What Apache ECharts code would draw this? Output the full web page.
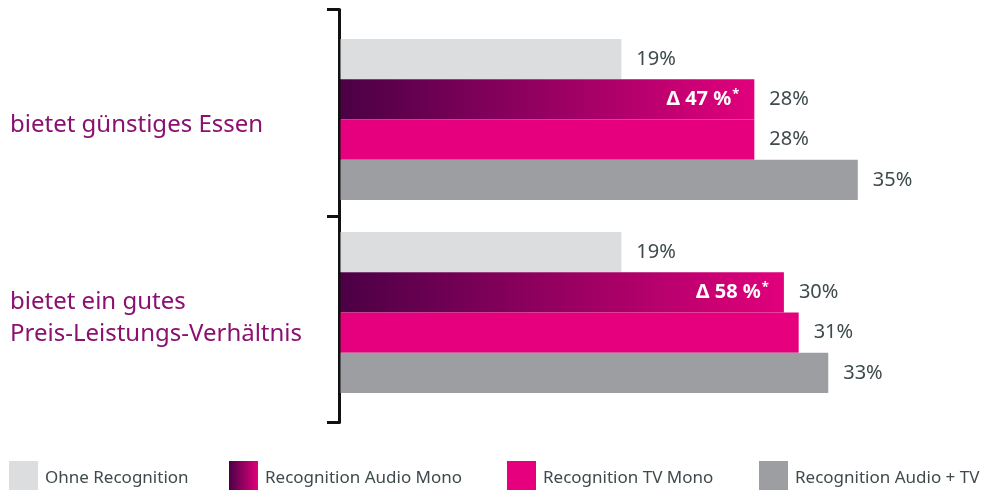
<!DOCTYPE html>
<html>
<head>
<meta charset="utf-8">
<script src="https://cdn.jsdelivr.net/npm/echarts@6/dist/echarts.min.js"></script>
<style>
  html, body { margin: 0; padding: 0; background: #fff; }
  #chart { width: 984px; height: 490px; }
</style>
</head>
<body>
<div id="chart"></div>
<script>
// data
const categories = ['bietet günstiges Essen', 'bietet ein gutes\nPreis-Leistungs-Verhältnis'];
const seriesNames = ['Ohne Recognition', 'Recognition Audio Mono', 'Recognition TV Mono', 'Recognition Audio + TV'];
const ohne = [19, 19];
const audioMono = [28, 30];
const tvMono = [28, 31];
const audioTv = [35, 33];
const deltaLabels = ['Δ 47 %', 'Δ 58 %'];

const textColor = '#3e4a4c';
const catColor = '#8a1170';
const font = 'Noto Sans';

const gradient = new echarts.graphic.LinearGradient(0, 0, 1, 0, [
  { offset: 0, color: '#4b0046' },
  { offset: 1, color: '#e2007c' }
]);

const valueLabel = {
  show: true,
  position: 'right',
  distance: 15,
  fontFamily: font,
  fontSize: 20,
  color: textColor,
  formatter: p => p.value + '%'
};

function legendAt(left, name) {
  return {
    left: left,
    top: 461,
    padding: 0,
    itemWidth: 29,
    itemHeight: 29,
    icon: 'rect',
    selectedMode: false,
    data: [name],
    formatter: n => '{sp| }\n{t|' + n + '}',
    textStyle: {
      rich: {
        sp: { fontSize: 1, height: 6, lineHeight: 6 },
        t: { fontFamily: font, fontSize: 17, color: textColor, padding: [0, 0, 0, 2] }
      }
    }
  };
}

const chart = echarts.init(document.getElementById('chart'));
chart.setOption({
  animation: false,
  legend: [
    legendAt(9, seriesNames[0]),
    legendAt(229, seriesNames[1]),
    legendAt(507, seriesNames[2]),
    legendAt(759, seriesNames[3])
  ],
  grid: [
    { left: 340.5, top: 23, width: 591.2, height: 386 },
    { left: 339, top: 9.5, width: 10, height: 413 }
  ],
  xAxis: [
    { type: 'value', min: 0, max: 40, show: false, gridIndex: 0 },
    { type: 'value', show: false, gridIndex: 1 }
  ],
  yAxis: [
    {
      type: 'category',
      gridIndex: 0,
      inverse: true,
      data: categories,
      axisLine: { show: false },
      axisTick: { show: false },
      axisLabel: {
        margin: 330.5,
        align: 'left',
        // small spacer line on top pushes the text down a bit
        formatter: v => '{sp| }\n' + v.split('\n').map(s => '{c|' + s + '}').join('\n'),
        rich: {
          sp: { fontSize: 1, height: 12, lineHeight: 12 },
          c: { fontFamily: font, fontSize: 24, lineHeight: 32, color: catColor }
        }
      }
    },
    {
      // bracket on the left
      type: 'category',
      gridIndex: 1,
      data: ['', ''],
      axisLine: { show: true, lineStyle: { color: '#111', width: 3 } },
      axisTick: { show: true, length: 12, lineStyle: { color: '#111', width: 3 } },
      axisLabel: { show: false }
    }
  ],
  series: [
    {
      name: seriesNames[0],
      type: 'bar',
      data: ohne,
      barGap: 0,
      barCategoryGap: '16.6%',
      itemStyle: { color: '#dcdddf' },
      label: valueLabel
    },
    {
      name: seriesNames[1],
      type: 'bar',
      stack: 'mono',
      data: audioMono,
      itemStyle: { color: gradient },
      label: {
        show: true,
        position: 'insideRight',
        distance: 15,
        formatter: p => '{d|' + deltaLabels[p.dataIndex] + '}{s|*}',
        rich: {
          d: { fontFamily: font, fontSize: 20, fontWeight: 'bold', color: '#fff' },
          s: { fontFamily: font, fontSize: 13, fontWeight: 'bold', color: '#fff', padding: [0, 0, 10, 1] }
        }
      }
    },
    {
      // carries the outside value label of the gradient bar
      name: 'audioMonoValue',
      type: 'bar',
      stack: 'mono',
      data: [0, 0],
      itemStyle: { color: 'transparent' },
      label: Object.assign({}, valueLabel, { formatter: p => audioMono[p.dataIndex] + '%' })
    },
    {
      name: seriesNames[2],
      type: 'bar',
      data: tvMono,
      itemStyle: { color: '#e6007e' },
      label: valueLabel
    },
    {
      name: seriesNames[3],
      type: 'bar',
      data: audioTv,
      itemStyle: { color: '#9d9ea2' },
      label: valueLabel
    }
  ]
});
</script>
</body>
</html>
